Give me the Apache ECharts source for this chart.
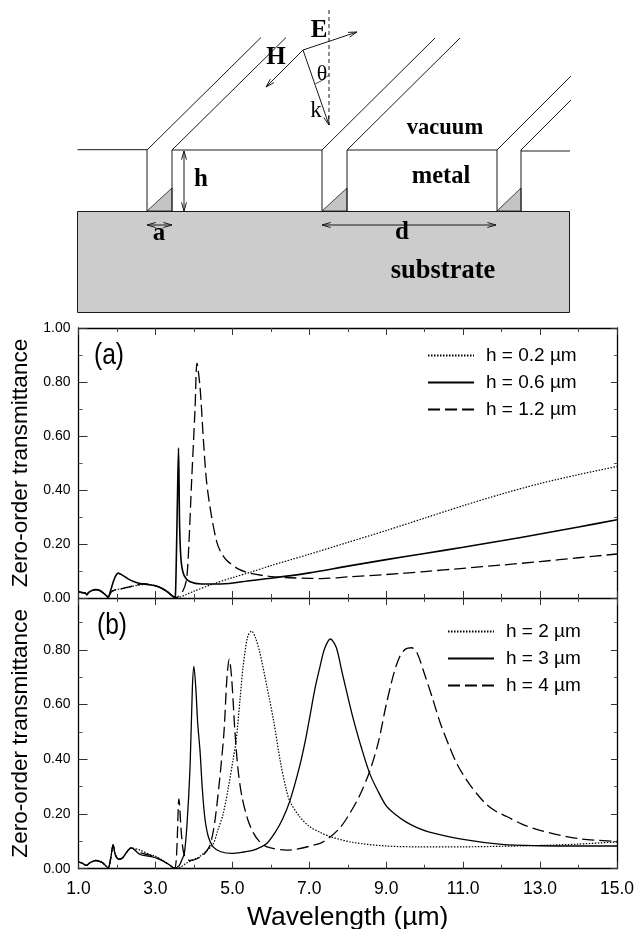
<!DOCTYPE html>
<html><head><meta charset="utf-8">
<style>html,body{margin:0;padding:0;background:#fff}#c{width:637px;height:929px}</style>
<script src="https://cdn.jsdelivr.net/npm/echarts@6/dist/echarts.min.js"></script>
</head><body><div id="c"></div>
<script>
const xTickLabels = [1,3,5,7,9,11,13,15];
const yMajorStep = 0.2;

const commonA = [[1,.024],[1.1,.02],[1.18,.018],[1.22,.012],[1.26,.02],[1.35,.028],[1.45,.031],[1.55,.028],[1.65,.018],[1.73,.008],[1.77,.003]];
const tailA = [[3,.045],[3.15,.037],[3.3,.024],[3.42,.01],[3.5,.002]];

const h02 = [...commonA,[1.85,.022],[1.95,.03],[2.1,.034],[2.3,.04],[2.5,.046],[2.7,.05],[2.85,.049],...tailA,[3.56,.001],[3.8,.013],[4,.025],[4.5,.052],[5,.075],[5.46,.095],[6,.12],[7,.162],[8,.206],[9,.25],[10,.296],[11,.342],[12,.385],[13,.424],[14,.457],[15,.487]];
const h06 = [...commonA,[1.83,.025],[1.9,.058],[1.96,.08],[2.03,.092],[2.15,.084],[2.3,.07],[2.45,.06],[2.6,.054],[2.8,.05],...tailA,[3.52,.01],[3.54,.12],[3.57,.35],[3.6,.555],[3.63,.26],[3.67,.135],[3.75,.082],[3.9,.06],[4.2,.052],[4.7,.052],[5.5,.065],[6,.073],[7,.093],[8,.118],[9,.142],[10,.165],[11,.188],[12,.212],[13,.237],[14,.263],[15,.29]];
const h12 = [...commonA,[1.85,.022],[1.95,.03],[2.1,.034],[2.3,.04],[2.5,.048],[2.7,.053],[2.85,.05],...tailA,[3.58,.004],[3.72,.028],[3.81,.07],[3.87,.2],[3.94,.43],[4.03,.7],[4.08,.87],[4.16,.78],[4.25,.58],[4.33,.43],[4.45,.31],[4.59,.21],[4.7,.17],[4.85,.14],[5.15,.108],[5.46,.092],[5.97,.08],[6.5,.075],[7,.073],[7.3,.072],[8,.078],[9,.087],[10,.098],[11,.11],[12,.122],[13,.135],[14,.149],[15,.163]];

const commonB = [[1,.024],[1.1,.02],[1.2,.012],[1.3,.022],[1.45,.03],[1.6,.024],[1.7,.012],[1.77,.002],[1.84,.04],[1.9,.087],[1.96,.05],[2.05,.035],[2.15,.04],[2.25,.06],[2.37,.076]];
const tailB = [[3.3,.02],[3.42,.008],[3.5,.002]];

const h2 = [...commonB,[2.6,.068],[2.85,.052],[3,.046],...tailB,[3.65,.006],[3.8,.02],[4.1,.04],[4.3,.062],[4.5,.09],[4.62,.14],[4.76,.2],[4.9,.3],[5.02,.4],[5.1,.47],[5.2,.62],[5.28,.74],[5.4,.85],[5.5,.869],[5.6,.845],[5.72,.787],[5.9,.665],[6.07,.543],[6.25,.39],[6.4,.29],[6.5,.245],[6.75,.19],[7,.155],[7.28,.133],[7.55,.117],[8.14,.096],[9,.083],[9.87,.08],[11,.08],[12,.082],[13,.085],[14,.09],[15,.098]];
const h3 = [...commonB,[2.6,.052],[2.85,.045],[3,.04],...tailB,[3.62,.012],[3.68,.03],[3.75,.055],[3.82,.16],[3.9,.37],[3.96,.66],[4,.74],[4.05,.66],[4.1,.53],[4.16,.43],[4.22,.29],[4.29,.18],[4.38,.115],[4.5,.08],[4.7,.062],[4.99,.056],[5.25,.06],[5.55,.068],[5.75,.08],[5.9,.093],[6.1,.13],[6.3,.18],[6.5,.25],[6.75,.375],[6.9,.47],[7,.545],[7.15,.66],[7.28,.74],[7.4,.805],[7.55,.84],[7.7,.81],[7.85,.72],[8,.63],[8.14,.55],[8.35,.445],[8.58,.345],[8.8,.28],[9,.23],[9.25,.197],[9.5,.172],[9.8,.15],[10.1,.135],[11,.107],[12,.089],[13,.084],[14,.083],[15,.083]];
const h4 = [...commonB,[2.6,.058],[2.85,.05],[3,.043],...tailB,[3.54,.03],[3.57,.12],[3.61,.255],[3.68,.12],[3.75,.05],[3.9,.03],[4.2,.045],[4.4,.08],[4.48,.12],[4.55,.178],[4.65,.3],[4.78,.495],[4.86,.7],[4.92,.766],[4.98,.7],[5.07,.495],[5.15,.36],[5.25,.263],[5.4,.18],[5.55,.13],[5.7,.1],[5.9,.08],[6.4,.068],[7.28,.093],[7.55,.117],[7.8,.15],[8,.19],[8.3,.265],[8.58,.36],[8.8,.465],[9,.6],[9.2,.715],[9.35,.775],[9.5,.803],[9.66,.808],[9.8,.79],[10,.71],[10.2,.625],[10.4,.535],[10.65,.444],[10.85,.38],[11.1,.322],[11.35,.275],[11.6,.236],[11.85,.21],[12.15,.19],[12.5,.165],[13,.14],[14,.11],[15,.1]];

const names = {h02:'h = 0.2 µm',h06:'h = 0.6 µm',h12:'h = 1.2 µm',h2:'h = 2 µm',h3:'h = 3 µm',h4:'h = 4 µm'};
const SANS = '"Liberation Sans", Arial, sans-serif';
const SERIF = '"Liberation Serif", serif';
const K = '#000';

function xAxes(g, labelled){
  const base = {type:'value',gridIndex:g,min:1,max:15,splitLine:{show:false}};
  const line = {onZero:false,lineStyle:{color:K,width:1.3}};
  const noLine = {onZero:false,lineStyle:{color:K,width:1.3,opacity:0}};
  return [
    {...base,position:'bottom',axisLine:line,interval:1,axisTick:{inside:true,length:4,lineStyle:{color:'#444'}},
      axisLabel:labelled?{show:true,customValues:xTickLabels,formatter:v=>v.toFixed(1),fontFamily:SANS,fontSize:17.5,color:K,margin:11,showMinLabel:true,showMaxLabel:true}:{show:false},
      ...(labelled?{name:'Wavelength (µm)',nameLocation:'middle',nameGap:35,nameTextStyle:{fontFamily:SANS,fontSize:26.5,color:K}}:{})},
    {...base,position:'top',axisLine:g===0?line:noLine,interval:1,axisTick:{inside:true,length:4,lineStyle:{color:'#444'}},axisLabel:{show:false}},
    {...base,position:'bottom',axisLine:noLine,axisTick:{inside:true,length:7,customValues:xTickLabels,lineStyle:{color:'#333'}},axisLabel:{show:false}},
    {...base,position:'top',axisLine:noLine,axisTick:{inside:true,length:7,customValues:xTickLabels,lineStyle:{color:'#333'}},axisLabel:{show:false}}
  ];
}
function yAxes(g, max){
  const base = {type:'value',gridIndex:g,min:0,max,interval:yMajorStep,splitLine:{show:false},axisLine:{onZero:false,lineStyle:{color:K,width:1.3}}};
  return [
    {...base,position:'left',axisTick:{inside:true,length:9,lineStyle:{color:'#333'}},minorTick:{show:true,splitNumber:2,length:4,lineStyle:{color:'#555'}},
      axisLabel:{formatter:v=>v>1.001||(g===1&&v>0.9)?'':v.toFixed(2),fontFamily:SANS,fontSize:14,color:K,margin:8,showMaxLabel:g===0},
      name:'Zero-order transmittance',nameLocation:'middle',nameGap:45,nameTextStyle:{fontFamily:SANS,fontSize:22.6,color:K}},
    {...base,position:'right',axisTick:{inside:true,length:6,lineStyle:{color:'#333'}},minorTick:{show:true,splitNumber:2,length:3,lineStyle:{color:'#555'}},axisLabel:{show:false}}
  ];
}
function series(name,data,g,dash,w){
  return {type:'line',name,data,xAxisIndex:g*4,yAxisIndex:g*2,smooth:0.3,showSymbol:false,symbol:'none',silent:true,
    lineStyle:{color:K,width:w,type:dash,cap:'butt'},itemStyle:{color:K}};
}
const DOT=[1.5,1.5], DASH=[12,5];

/* schematic (decoration, not data) */
const diagram=[];
function L(x1,y1,x2,y2,w,dash){diagram.push({type:'line',silent:true,shape:{x1,y1,x2,y2},style:{stroke:'#1a1a1a',lineWidth:w||1,lineDash:dash}});}
function head(x1,y1,x2,y2){const a=Math.atan2(y2-y1,x2-x1),s=9,t=.28;
  diagram.push({type:'polyline',silent:true,shape:{points:[[x2-s*Math.cos(a-t),y2-s*Math.sin(a-t)],[x2,y2],[x2-s*Math.cos(a+t),y2-s*Math.sin(a+t)]]},style:{stroke:'#1a1a1a',fill:null,lineWidth:1}});}
function A(x1,y1,x2,y2,both){L(x1,y1,x2,y2);head(x1,y1,x2,y2);if(both)head(x2,y2,x1,y1);}
function T(text,x,y,size,bold,family,sx){diagram.push({type:'text',silent:true,x,y,scaleX:sx||1,style:{text,fontFamily:family||SERIF,fontSize:size,fontWeight:bold?'bold':'normal',fill:'#000',align:'center',verticalAlign:'middle'}});}
diagram.push({type:'rect',silent:true,shape:{x:77.5,y:211.5,width:492,height:101},style:{fill:'#cccccc',stroke:'#1a1a1a',lineWidth:1}});
[[147,172],[322,347],[497,521]].forEach(([a,b])=>{
  diagram.push({type:'polygon',silent:true,shape:{points:[[a,211],[b,188],[b,211]]},style:{fill:'#c4c4c4',stroke:'#1a1a1a',lineWidth:.8}});
  L(a,150,a,211);L(b,150,b,211);
});
L(77.5,149.7,147,149.7);L(172,150,322,150);L(347,150,497,150);L(521,151,570,151);
L(147,150,261,37.5);L(172,150,286,37.5);L(322,150,435,38);L(347,150,460,38);L(497,150,571,76);L(521,150,571,100);
L(329,10,329,125,1,[4,3]);
A(303,50,357,32);A(303,50,266,87);A(303,50,329,125);
diagram.push({type:'arc',silent:true,shape:{cx:303,cy:50,r:36,startAngle:.75,endAngle:1.22},style:{stroke:'#1a1a1a',fill:null,lineWidth:.8}});
A(184,151,184,211,true);A(147,225,172,225,true);A(322,225,496,225,true);
T('E',319,31,25,true);T('H',276,58,25,true);T('θ',322,74,22,false);T('k',316,111,23,false);
T('vacuum',445,128,22.5,true);T('metal',441,177,24.5,true);T('h',201,180,25,true);T('a',159,234,25,true);T('d',402,233,25,true);T('substrate',443,271,26.5,true);
T('(a)',109,356,30,false,SANS,.82);T('(b)',112,626,30,false,SANS,.82);

const legendBase={orient:'vertical',selectedMode:false,itemWidth:46,itemHeight:20,itemGap:8,padding:0,itemStyle:{opacity:0},textStyle:{fontFamily:SANS,fontSize:19,color:K,padding:[0,0,0,7]}};

const chart=echarts.init(document.getElementById('c'),null,{renderer:'canvas'});
chart.setOption({
  animation:false,backgroundColor:'#fff',
  grid:[{left:78.5,width:538.5,top:328,height:270,outerBoundsMode:'none'},{left:78.5,width:538.5,top:598,height:270.7,outerBoundsMode:'none'}],
  xAxis:[...xAxes(0,false),...xAxes(1,true)],
  yAxis:[...yAxes(0,1),...yAxes(1,0.99)],
  legend:[
    {...legendBase,left:427,top:346,data:[names.h02,names.h06,names.h12]},
    {...legendBase,left:447,top:622,data:[names.h2,names.h3,names.h4]}
  ],
  series:[
    series(names.h02,h02,0,DOT,1.2),series(names.h06,h06,0,'solid',1.6),series(names.h12,h12,0,DASH,1.3),
    series(names.h2,h2,1,DOT,1.2),series(names.h3,h3,1,'solid',1.3),series(names.h4,h4,1,DASH,1.3)
  ],
  graphic:{elements:diagram}
});
</script></body></html>
